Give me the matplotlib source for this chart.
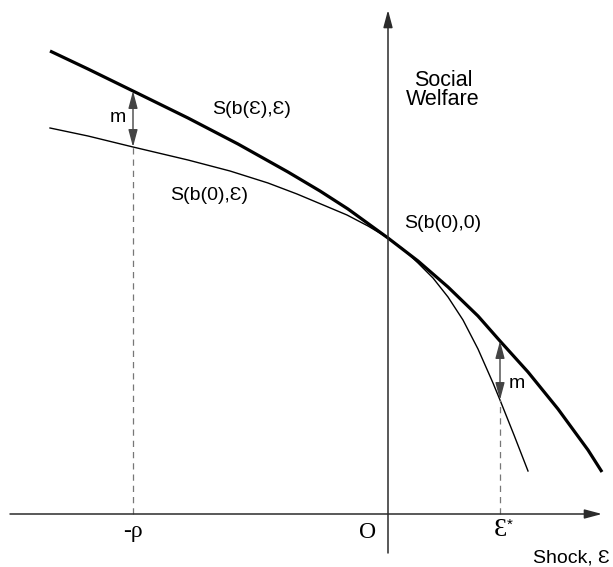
import numpy as np
import matplotlib.pyplot as plt

# curve points (shock, welfare), origin where the axes cross
opt_x = [-338, -300, -255, -200, -150, -100, -68, -40, 0, 30, 60, 90, 112, 140, 170, 200, 214]
opt_y = [463, 445, 423, 396, 370, 342, 323, 305, 276, 253, 227, 198, 173, 142, 105, 64, 42]
fixed_x = [-338, -300, -255, -200, -158, -120, -91, -60, -41, -20, 0,
           15, 30, 45, 60, 75, 90, 105, 112, 126, 140]
fixed_y = [386, 378, 367, 354, 343, 331, 320, 307, 299, 288, 276,
           265, 251, 236, 217, 194, 165, 131, 114, 79, 43]

# the two shocks where the gap m is shown: (shock, lower, upper)
rho_x = -255
eps_star_x = 112
gap_pts = [(rho_x, 367, 423), (eps_star_x, 114, 173)]

sans = ['Liberation Sans', 'DejaVu Sans']
serif = ['Liberation Serif', 'DejaVu Serif']

fig = plt.figure(figsize=(6.13, 5.67), dpi=100)
ax = fig.add_axes([0, 0, 1, 1])
ax.set_xlim(-388, 225)
ax.set_ylim(-53, 514)
ax.set_axis_off()

axis_col = '#2b2b2b'
arrow = dict(arrowstyle='-|>,head_length=0.75,head_width=0.2', mutation_scale=14,
             lw=1.1, color=axis_col, shrinkA=0, shrinkB=0)
# horizontal and vertical axes
ax.annotate('', xy=(214, 0), xytext=(-378, 0), arrowprops=arrow)
ax.annotate('', xy=(0, 504), xytext=(0, -39), arrowprops=arrow)

# curves
ax.plot(opt_x, opt_y, color='black', lw=2.3, solid_joinstyle='round', solid_capstyle='butt')
ax.plot(fixed_x, fixed_y, color='black', lw=1.0, solid_joinstyle='round')

# dashed drop lines and the m arrows
for x, lo, hi in gap_pts:
    ax.plot([x, x], [0, lo], color='#777777', lw=0.9, ls=(0, (5, 4)))
    ax.annotate('', xy=(x, hi), xytext=(x, lo),
                arrowprops=dict(arrowstyle='<|-|>,head_length=0.75,head_width=0.2',
                                mutation_scale=14, lw=1.0, color='#444444',
                                shrinkA=0, shrinkB=0))

# labels
ax.text(-270, 396, 'm', fontsize=14, family=sans, ha='center', va='center')
ax.text(129, 130, 'm', fontsize=14, family=sans, ha='center', va='center')
ax.text(-136, 405, 'S(b(Ɛ),Ɛ)', fontsize=14, family=sans, ha='center', va='center')
ax.text(-179, 319, 'S(b(0),Ɛ)', fontsize=14, family=sans, ha='center', va='center')
ax.text(55, 291, 'S(b(0),0)', fontsize=14, family=sans, ha='center', va='center')
ax.text(55, 424, 'Social\nWelfare', fontsize=15.5, family=sans, ha='center',
        va='center', linespacing=0.85)
ax.text(rho_x, -18, '-ρ', fontsize=17, family=serif, ha='center', va='center')
ax.text(-20, -18, 'O', fontsize=17, family=serif, ha='center', va='center')
ax.text(eps_star_x, -16, 'Ɛ', fontsize=19, family=serif, ha='center', va='center')
ax.text(eps_star_x + 10, -11, '*', fontsize=11, family=sans, ha='center', va='center')
ax.text(222, -44, 'Shock, Ɛ', fontsize=14, family=sans, ha='right', va='center')

fig.savefig('out.png', dpi=100, facecolor='white')
